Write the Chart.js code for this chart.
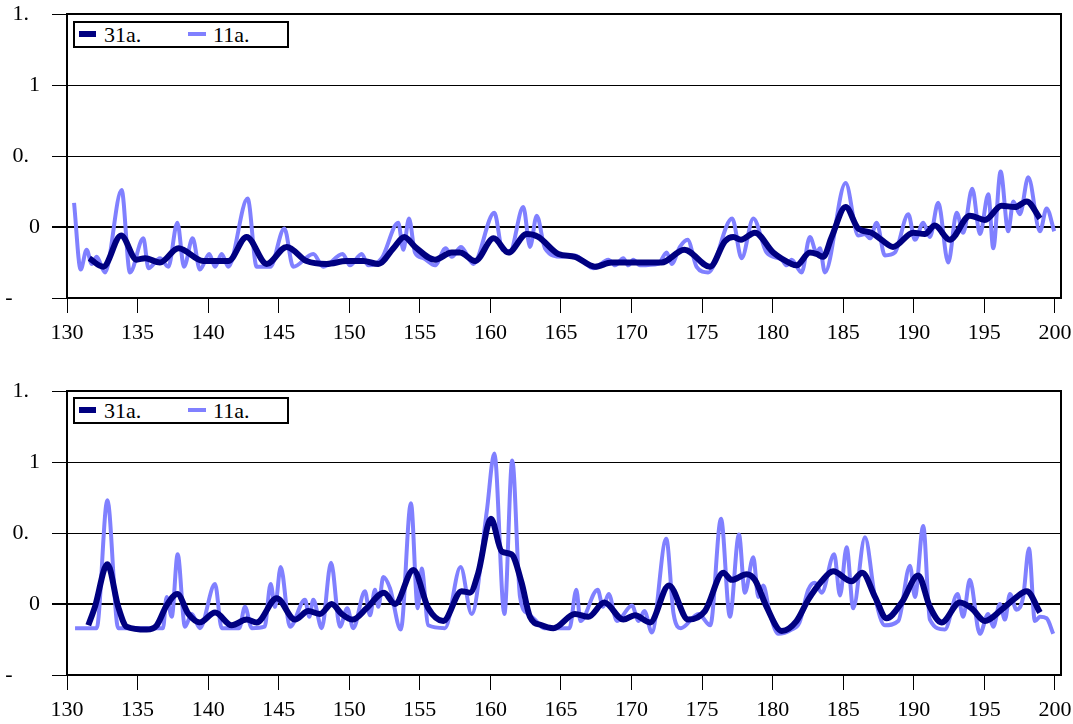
<!DOCTYPE html>
<html>
<head>
<meta charset="utf-8">
<script src="https://cdn.jsdelivr.net/npm/chart.js@4.4.0/dist/chart.umd.min.js"></script>
<style>
  body { margin: 0; background: #fff; width: 1073px; height: 724px; position: relative; overflow: hidden;
         font-family: 'Liberation Serif', 'Times New Roman', serif; }
  .panel { position: absolute; left: 0; width: 1073px; height: 345px; }
  .legend { position: absolute; left: 73px; width: 216px; height: 27px; border: 2px solid #000;
            box-sizing: border-box; background: #fff; font-size: 22px; line-height: 23px; }
  .legend span { position: absolute; top: 0; }
  .sw { position: absolute; }
  .sw.dark { left: 4px; top: 8px; width: 17px; height: 6px; background: #000080; }
  .sw.light { left: 113px; top: 9px; width: 18px; height: 4px; background: #8080ff; }
</style>
</head>
<body>

<canvas id="chartTop" class="panel" width="1073" height="345" style="top:0px"></canvas>
<canvas id="chartBottom" class="panel" width="1073" height="345" style="top:377px"></canvas>

<div class="legend" style="top:21px">
  <div class="sw dark"></div><span style="left:29px">31a.</span>
  <div class="sw light"></div><span style="left:138px">11a.</span>
</div>
<div class="legend" style="top:397px">
  <div class="sw dark"></div><span style="left:29px">31a.</span>
  <div class="sw light"></div><span style="left:138px">11a.</span>
</div>

<script>
// axis ticks
const xTickValues = [130, 135, 140, 145, 150, 155, 160, 165, 170, 175, 180, 185, 190, 195, 200];
const yTickValues = [-0.5, 0, 0.5, 1, 1.5];
const yTickLabels = ['-', '0', '0.', '1', '1.'];
const seriesNames = ['31a.', '11a.'];

// ---- top panel ----
const topDarkX = [131.58, 132.57, 133.83, 134.94, 135.53, 136.59, 137.89, 139.66, 141.43, 142.73, 144.15, 145.57,
  146.98, 148.40, 149.82, 151.00, 152.06, 153.12, 153.90, 154.66, 156.07, 157.26, 157.85, 158.91, 160.23, 161.27,
  162.57, 163.39, 164.81, 165.99, 167.41, 168.59, 170.24, 172.13, 173.74, 175.56, 176.62, 177.21, 177.75, 178.74,
  180.04, 181.34, 181.69, 182.64, 183.11, 183.58, 184.18, 185.17, 186.06, 187.00, 187.71, 188.53, 189.95, 190.78,
  191.49, 192.55, 193.97, 195.04, 196.22, 197.17, 198.00, 198.94];
const topDarkY = [-0.22, -0.28, -0.06, -0.23, -0.22, -0.25, -0.15, -0.24, -0.24, -0.07, -0.26, -0.14,
  -0.24, -0.26, -0.24, -0.24, -0.26, -0.15, -0.07, -0.14, -0.23, -0.18, -0.18, -0.24, -0.08, -0.18,
  -0.05, -0.07, -0.19, -0.21, -0.28, -0.25, -0.25, -0.25, -0.16, -0.28, -0.10, -0.07, -0.09, -0.04,
  -0.18, -0.26, -0.27, -0.18, -0.19, -0.21, -0.07, 0.14, -0.01, -0.04, -0.09, -0.14, -0.04, -0.05,
  0.01, -0.09, 0.08, 0.05, 0.15, 0.14, 0.18, 0.06];

const topLightX = [130.50, 130.97, 131.39, 131.75, 132.10, 132.69, 133.87, 134.46, 135.41, 135.77, 136.59, 137.18,
  137.82, 138.29, 138.90, 139.42, 140.08, 140.49, 140.96, 141.43, 142.80, 143.44, 144.40, 145.40, 146.03, 147.45,
  148.16, 149.53, 150.05, 150.88, 151.35, 152.30, 153.47, 153.83, 154.23, 154.66, 155.25, 156.07, 156.83, 157.26,
  157.92, 158.79, 160.28, 160.85, 161.39, 162.33, 162.81, 163.28, 163.87, 165.05, 165.99, 167.29, 168.36, 168.83,
  169.42, 169.77, 170.12, 170.60, 171.90, 172.49, 172.84, 173.43, 173.97, 174.61, 175.43, 177.13, 177.80, 178.63,
  179.57, 180.64, 180.99, 181.34, 182.05, 182.64, 183.11, 183.35, 183.70, 185.17, 186.06, 186.54, 186.90, 187.37,
  187.95, 188.66, 189.61, 190.08, 190.67, 191.14, 191.73, 192.44, 193.04, 193.50, 194.14, 194.69, 195.28, 195.63,
  196.15, 196.69, 197.05, 197.52, 198.11, 198.94, 199.41, 199.95];
const topLightY = [0.17, -0.30, -0.16, -0.26, -0.21, -0.32, 0.26, -0.32, -0.08, -0.29, -0.22, -0.28,
  0.03, -0.28, -0.08, -0.30, -0.19, -0.28, -0.19, -0.28, 0.20, -0.28, -0.28, -0.01, -0.28, -0.19,
  -0.28, -0.19, -0.27, -0.19, -0.27, -0.22, 0.03, -0.16, 0.06, -0.18, -0.22, -0.27, -0.15, -0.21,
  -0.14, -0.26, 0.10, -0.16, -0.17, 0.14, -0.14, 0.08, -0.15, -0.21, -0.20, -0.29, -0.23, -0.27,
  -0.22, -0.27, -0.23, -0.27, -0.26, -0.18, -0.26, -0.14, -0.09, -0.28, -0.32, 0.06, -0.22, 0.06,
  -0.18, -0.23, -0.27, -0.23, -0.32, -0.07, -0.18, -0.15, -0.32, 0.31, -0.06, -0.05, -0.08, 0.03,
  -0.20, -0.18, 0.09, -0.09, 0.03, -0.07, 0.17, -0.25, 0.10, -0.04, 0.27, -0.05, 0.23, -0.15,
  0.39, -0.03, 0.18, 0.09, 0.35, -0.03, 0.13, -0.03];

// ---- bottom panel ----
const botDarkX = [131.51, 131.98, 132.86, 133.63, 134.23, 135.65, 136.36, 137.06, 137.82, 138.60, 139.42, 140.49,
  141.67, 142.73, 143.44, 144.86, 146.15, 147.10, 147.93, 148.75, 149.46, 150.24, 151.23, 152.46, 153.24, 154.54,
  155.60, 156.66, 157.96, 158.55, 159.14, 160.04, 160.80, 161.50, 162.21, 162.80, 163.63, 164.46, 165.99, 166.94,
  168.07, 169.42, 170.24, 171.31, 172.65, 174.02, 175.20, 176.50, 177.09, 178.16, 178.74, 179.57, 180.64, 181.69,
  182.52, 183.47, 184.29, 185.59, 186.35, 187.25, 188.07, 189.14, 190.31, 191.14, 191.97, 193.26, 194.09, 195.04,
  196.22, 197.17, 198.00, 198.94];
const botDarkY = [-0.15, -0.02, 0.28, -0.02, -0.16, -0.18, -0.15, -0.01, 0.07, -0.07, -0.13, -0.06,
  -0.15, -0.11, -0.13, 0.04, -0.11, -0.05, -0.07, 0.00, -0.07, -0.11, -0.03, 0.08, 0.00, 0.24,
  -0.03, -0.12, 0.09, 0.08, 0.22, 0.60, 0.37, 0.35, 0.15, -0.09, -0.15, -0.17, -0.07, -0.09,
  0.01, -0.11, -0.08, -0.13, 0.13, -0.11, -0.05, 0.22, 0.17, 0.21, 0.17, -0.02, -0.19, -0.12,
  0.03, 0.16, 0.23, 0.16, 0.22, 0.05, -0.10, 0.01, 0.20, -0.02, -0.13, 0.01, -0.03, -0.12,
  -0.04, 0.04, 0.09, -0.06];

const botLightX = [130.57, 132.10, 132.86, 133.63, 136.80, 137.06, 137.42, 137.84, 138.36, 138.83, 139.42, 140.49,
  140.96, 142.20, 142.61, 143.09, 144.00, 144.43, 144.74, 145.14, 145.80, 146.86, 147.17, 147.45, 148.05, 148.71,
  149.34, 149.86, 150.28, 151.11, 151.47, 151.82, 152.06, 152.41, 152.89, 153.65, 154.37, 154.85, 155.13, 155.60,
  156.78, 157.89, 158.67, 159.74, 160.28, 160.99, 161.55, 162.10, 162.69, 163.16, 163.80, 165.60, 166.09, 166.38,
  167.60, 167.98, 168.38, 168.97, 170.03, 170.50, 170.91, 171.44, 172.46, 172.98, 173.50, 174.75, 175.58, 176.34,
  176.97, 177.61, 178.03, 178.63, 178.98, 179.33, 179.81, 180.40, 181.34, 181.90, 182.52, 182.99, 183.47, 184.36,
  184.77, 185.24, 185.71, 186.54, 187.25, 187.95, 188.90, 189.73, 190.08, 190.67, 191.14, 192.20, 193.10, 193.50,
  193.97, 194.68, 195.27, 195.63, 196.10, 196.46, 196.81, 197.28, 197.75, 198.16, 198.58, 198.94, 199.41, 199.88];
const botLightY = [-0.17, -0.17, 0.73, -0.17, -0.17, 0.05, -0.09, 0.35, -0.16, -0.07, -0.17, 0.14,
  -0.17, -0.17, -0.02, -0.17, -0.16, 0.14, -0.02, 0.26, -0.16, 0.03, -0.09, 0.03, -0.17, 0.29,
  -0.16, -0.03, -0.17, 0.09, -0.08, 0.10, -0.02, 0.19, 0.11, -0.18, 0.71, -0.03, 0.25, -0.15,
  -0.17, 0.26, -0.07, 0.65, 1.06, -0.07, 1.01, 0.05, -0.07, -0.11, -0.17, -0.17, 0.10, -0.12,
  0.10, -0.02, 0.07, -0.12, -0.01, -0.12, -0.05, -0.20, 0.46, -0.07, -0.17, -0.07, -0.15, 0.60,
  -0.09, 0.49, 0.08, 0.33, 0.05, 0.13, -0.07, -0.21, -0.18, -0.13, 0.10, 0.15, 0.08, 0.35,
  0.06, 0.40, -0.03, 0.47, 0.05, -0.15, -0.12, 0.27, 0.05, 0.55, -0.11, -0.18, 0.07, -0.09,
  0.17, -0.21, -0.07, -0.16, 0.00, -0.11, 0.07, -0.04, 0.05, 0.39, -0.12, -0.09, -0.10, -0.21];

const FONT = "'Liberation Serif', 'Times New Roman', serif";

function toPoints(xs, ys) {
    return xs.map((x, i) => ({x: x, y: ys[i]}));
}

// truncated y labels, placed where the full number would have started
const yLabelPlugin = {
    id: 'yLabels',
    afterDraw(chart) {
        const ctx = chart.ctx;
        const yScale = chart.scales.y;
        ctx.save();
        ctx.font = '22px ' + FONT;
        ctx.fillStyle = '#000';
        ctx.textBaseline = 'middle';
        ctx.textAlign = 'left';
        yTickValues.forEach((v, i) => {
            const left = 40 - ctx.measureText(String(v)).width;
            ctx.fillText(yTickLabels[i], left, yScale.getPixelForValue(v));
        });
        ctx.restore();
    }
};

const boxPlugin = {
    id: 'plotBox',
    afterDraw(chart) {
        const a = chart.chartArea;
        const ctx = chart.ctx;
        ctx.save();
        ctx.strokeStyle = '#000';
        ctx.lineWidth = 2;
        ctx.strokeRect(a.left, a.top, a.right - a.left, a.bottom - a.top);
        ctx.restore();
    }
};

function makeChart(id, darkX, darkY, lightX, lightY) {
    const ctx = document.getElementById(id).getContext('2d');
    return new Chart(ctx, {
        type: 'line',
        data: {
            datasets: [{
                label: seriesNames[0],
                data: toPoints(darkX, darkY),
                borderColor: '#000080',
                borderWidth: 6,
                pointRadius: 0,
                cubicInterpolationMode: 'monotone',
                borderJoinStyle: 'round'
            }, {
                label: seriesNames[1],
                data: toPoints(lightX, lightY),
                borderColor: '#8080ff',
                borderWidth: 4,
                pointRadius: 0,
                cubicInterpolationMode: 'monotone',
                borderJoinStyle: 'round'
            }]
        },
        options: {
            responsive: false,
            animation: false,
            layout: {padding: {top: 14, right: 12, left: 0, bottom: 0}},
            plugins: {legend: {display: false}, tooltip: {enabled: false}},
            scales: {
                x: {
                    type: 'linear',
                    min: 130,
                    max: 200.43,
                    afterBuildTicks: s => { s.ticks = xTickValues.map(v => ({value: v})); },
                    afterFit: s => { s.height = 47; s.paddingLeft = 0; s.paddingRight = 0; },
                    grid: {drawOnChartArea: false, drawTicks: true, tickLength: 15, color: '#000', lineWidth: 1},
                    border: {display: false},
                    ticks: {
                        font: {family: FONT, size: 22},
                        color: '#000',
                        padding: 7,
                        maxRotation: 0,
                        autoSkip: false,
                        callback: v => String(v)
                    }
                },
                y: {
                    min: -0.5,
                    max: 1.5,
                    afterBuildTicks: s => { s.ticks = yTickValues.map(v => ({value: v})); },
                    afterFit: s => { s.width = 67; },
                    grid: {
                        color: '#000',
                        lineWidth: c => (c.tick && c.tick.value === 0) ? 2 : 1,
                        tickLength: 15
                    },
                    border: {display: false},
                    ticks: {display: false}
                }
            }
        },
        plugins: [yLabelPlugin, boxPlugin]
    });
}

makeChart('chartTop', topDarkX, topDarkY, topLightX, topLightY);
makeChart('chartBottom', botDarkX, botDarkY, botLightX, botLightY);
</script>
</body>
</html>
